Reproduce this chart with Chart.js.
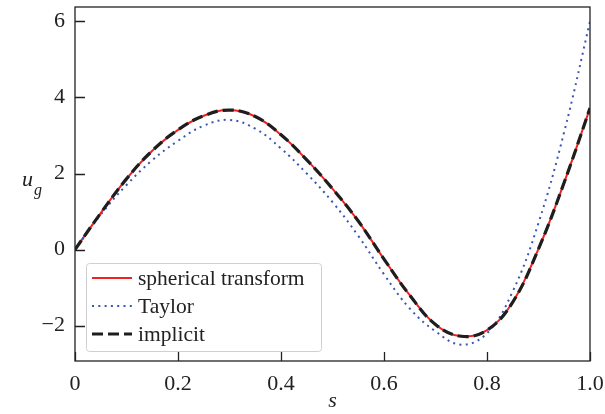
<!DOCTYPE html>
<html>
<head>
<meta charset="utf-8">
<script src="https://cdn.jsdelivr.net/npm/chart.js@4/dist/chart.umd.min.js"></script>
<style>
  html, body { margin: 0; padding: 0; background: #fff; }
  #wrap { width: 605px; height: 414px; }
</style>
</head>
<body>
<div id="wrap"><canvas id="c" width="605" height="414"></canvas></div>
<script>
// s values (x axis)
const sVals = [0, 0.05, 0.1, 0.15, 0.2, 0.25, 0.3, 0.35, 0.4, 0.45, 0.5,
               0.55, 0.6, 0.65, 0.7, 0.75, 0.8, 0.85, 0.9, 0.95, 1.0];
// spherical transform and implicit overlap
const spherical = [0, 0.96, 1.86, 2.6, 3.15, 3.52, 3.67, 3.5, 3.02, 2.36, 1.6,
                   0.75, -0.25, -1.2, -1.97, -2.28, -2.12, -1.38, 0.02, 1.77, 3.72];
const taylor    = [0, 0.92, 1.7, 2.35, 2.86, 3.26, 3.41, 3.18, 2.66, 2.0, 1.25,
                   0.36, -0.65, -1.55, -2.15, -2.5, -2.2, -1.1, 0.7, 3.1, 6.0];
const implicit  = [0, 0.96, 1.86, 2.6, 3.15, 3.52, 3.67, 3.5, 3.02, 2.36, 1.6,
                   0.75, -0.25, -1.2, -1.97, -2.28, -2.12, -1.38, 0.02, 1.77, 3.72];
const xTicks = [0, 0.2, 0.4, 0.6, 0.8, 1.0];
const yTicks = [-2, 0, 2, 4, 6];

const FONT = '"Liberation Serif", "DejaVu Serif", serif';
const INK = '#222';

const pts = ys => sVals.map((s, i) => ({ x: s, y: ys[i] }));

// frame, inward ticks, legend box and the u_g label
const decor = {
  id: 'decor',
  afterDraw(chart) {
    const { ctx, chartArea: a, scales } = chart;
    ctx.save();
    ctx.strokeStyle = INK;
    ctx.lineWidth = 1.3;
    ctx.strokeRect(a.left, a.top, a.right - a.left, a.bottom - a.top);
    ctx.beginPath();
    xTicks.forEach(v => {
      const x = Math.round(scales.x.getPixelForValue(v)) + 0.5;
      ctx.moveTo(x, a.bottom); ctx.lineTo(x, a.bottom - 9);
    });
    yTicks.forEach(v => {
      const y = Math.round(scales.y.getPixelForValue(v)) + 0.5;
      ctx.moveTo(a.left, y); ctx.lineTo(a.left + 10, y);
    });
    ctx.stroke();

    // legend
    const bx = 86, by = 263, bw = 235, bh = 88;
    ctx.fillStyle = 'rgba(255,255,255,0.85)';
    ctx.strokeStyle = '#d0d0d0';
    ctx.lineWidth = 1;
    ctx.beginPath();
    ctx.roundRect(bx + 0.5, by + 0.5, bw, bh, 3);
    ctx.fill(); ctx.stroke();
    ctx.font = '21.5px ' + FONT;
    ctx.textBaseline = 'middle';
    const rows = [278, 306, 334];
    chart.data.datasets.forEach((ds, i) => {
      ctx.strokeStyle = ds.borderColor;
      ctx.lineWidth = ds.borderWidth;
      ctx.setLineDash(ds.borderDash || []);
      ctx.beginPath();
      ctx.moveTo(92, rows[i]); ctx.lineTo(132, rows[i]);
      ctx.stroke();
      ctx.setLineDash([]);
      ctx.fillStyle = INK;
      ctx.fillText(ds.label, 138, rows[i] + 1);
    });

    // y axis label u_g
    ctx.fillStyle = INK;
    ctx.textBaseline = 'alphabetic';
    ctx.font = 'italic 22px ' + FONT;
    ctx.fillText('u', 22, 186);
    ctx.font = 'italic 16px ' + FONT;
    ctx.fillText('g', 34, 195);
    ctx.restore();
  }
};

// drop the edge-label padding so the plot fills the frame like the original
const noEdgePad = s => { s.paddingLeft = s.paddingRight = s.paddingTop = s.paddingBottom = 0; };

new Chart(document.getElementById('c'), {
  type: 'line',
  data: {
    datasets: [
      { label: 'spherical transform', data: pts(spherical), borderColor: '#ee2222',
        borderWidth: 2, pointRadius: 0, order: 3 },
      { label: 'Taylor', data: pts(taylor), borderColor: '#3a55b5',
        borderWidth: 2, borderDash: [2, 4.3], pointRadius: 0, order: 2 },
      { label: 'implicit', data: pts(implicit), borderColor: '#1e1e1e',
        borderWidth: 3.2, borderDash: [11, 5], pointRadius: 0, order: 1 },
    ],
  },
  options: {
    responsive: false,
    animation: false,
    devicePixelRatio: 1,
    layout: { padding: { top: 7, right: 15, left: 0, bottom: 0 } },
    elements: { line: { tension: 0.4, borderCapStyle: 'butt' } },
    plugins: { legend: { display: false }, tooltip: { enabled: false } },
    scales: {
      x: {
        type: 'linear', min: 0, max: 1,
        afterBuildTicks: s => { s.ticks = xTicks.map(v => ({ value: v })); },
        afterFit: s => { s.height = 53; noEdgePad(s); },
        grid: { display: false, drawTicks: false },
        border: { display: false },
        ticks: {
          padding: 10, color: INK, font: { family: FONT, size: 22 },
          maxRotation: 0,
          callback: v => v === 0 ? '0' : v.toFixed(1),
        },
        title: {
          display: true, text: 's', color: INK, padding: { top: -2, bottom: 0 },
          font: { family: FONT, size: 22, style: 'italic' },
        },
      },
      y: {
        type: 'linear', min: -2.93, max: 6.38,
        afterBuildTicks: s => { s.ticks = yTicks.map(v => ({ value: v })); },
        afterFit: s => { s.width = 75; noEdgePad(s); },
        grid: { display: false, drawTicks: false },
        border: { display: false },
        ticks: {
          padding: 10, color: INK, font: { family: FONT, size: 22 },
          callback: v => v < 0 ? '\u2212' + Math.abs(v) : String(v),
        },
      },
    },
  },
  plugins: [decor],
});
</script>
</body>
</html>
